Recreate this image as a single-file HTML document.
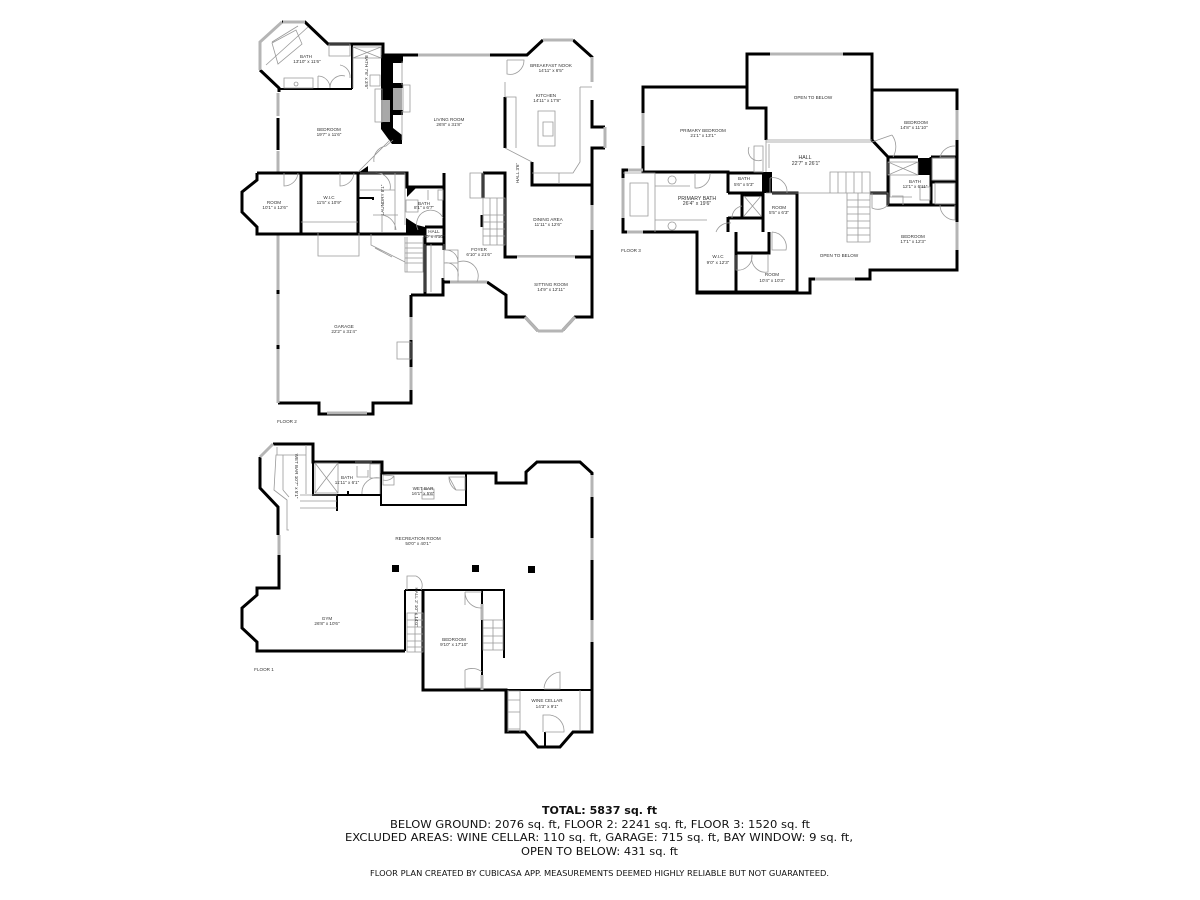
<!DOCTYPE html>
<html><head><meta charset="utf-8"><style>
html,body{margin:0;padding:0;background:#fff}
svg{display:block}
.w{fill:none;stroke:#000;stroke-width:3;stroke-linejoin:miter}
.t{fill:none;stroke:#000;stroke-width:2}
.g{fill:none;stroke:#b5b5b5;stroke-width:3}
.h{fill:none;stroke:#999;stroke-width:.8}
.l{font-family:"Liberation Sans",sans-serif;font-size:4.6px;fill:#333;text-anchor:middle}
.f{font-family:"DejaVu Sans",sans-serif;fill:#111;text-anchor:middle}
.p{filter:blur(.3px)}
</style></head><body>
<svg width="1200" height="900" viewBox="0 0 1200 900" xmlns="http://www.w3.org/2000/svg">
<rect width="1200" height="900" fill="#fff"/>
<g class="p">
<!-- FLOOR 2 walls -->
<path class="w" d="M282 22H305L328 44H383V55H418M490 55H527L543 40M573 40L592 57V82M592 100V127H605M605 148H592V205M592 230V317H575L563 330M538 331L525 317H506V295L487 282M450 282H443M443 278V295H425V227M411 295V317M425 295H411M411 340V367M411 390V403H373V414H319V403H278"/>
<path class="w" d="M260 70L279 88V92M278 118V150"/>
<path class="g" d="M282 22L260 42V70M283 22H305M543 40H573M592 57V82M605 127V148M592 205V230M538 331H562L575 317M525 317L538 331M450 282H487M411 317V340M411 367V390M278 235V290M278 294V345M278 349V403M327 413H367M278 93V116M278 151V172M418 55H490"/>
<path class="w" d="M278 290V294M278 345V349" style="stroke-width:3"/>
<path class="w" d="M257 173H407V187H444V250M444 173V187M257 173V180L242 192V212L257 227V234H425M301 173V234M358 173V234M425 227H444M425 244H444M505 97V148M517 257H505V173H483M532 162V185H592M483 173V198M482 215V227M575 257H592"/>
<path class="w" d="M352 44V89M383 44V89M279 89H352" style="stroke-width:2"/>
<!-- black chimney blocks -->
<path d="M381 55H393V128L402 135V144H392L381 129V122H390V100H381Z" fill="#000"/>
<path d="M393 55H403V63H393ZM393 83H403V88H393ZM393 110H403V115H393Z" fill="#000"/>
<rect x="393" y="88" width="9" height="22" fill="#a8a8a8"/>
<rect x="381" y="100" width="9" height="22" fill="#a8a8a8"/>
<path d="M407 187H417L407 197ZM406 218L417 225L425 227V235H406ZM358 173L368 166V173Z" fill="#000"/>
<path class="w" d="M358 198H373V200" style="stroke-width:2"/>
<path class="h" d="M517 257H575M505 82V97M505 148L532 162M390 140L358 172M393 140L386 146A14 14 0 0 0 374 162"/>
<path d="M517 256H575" stroke="#bbb" stroke-width="2"/>
<path class="h" d="M272 42L298 26M266 65L308 27M272 43L296 30L302 44L278 64ZM329 44H350V56H329ZM284 78H313V88H284ZM318 76V88M353 58V88M353 47H381V58H353ZM353 47L381 58M381 47L353 58M370 75H380V86H370Z"/>
<path class="h" d="M318 76A12 12 0 0 1 330 88M340 65A12 12 0 0 1 350 78M330 88A12 12 0 0 1 345 76M296 82a2 2 0 1 0 .1 0"/>
<path class="h" d="M375 89H382V122H375ZM403 85H410V112H403ZM403 62H402V85M402 111V140"/>
<path class="h" d="M507 60V74A14 14 0 0 0 524 60H507M505 97H516V148M538 111H555V146H538ZM543 122H553V136H543ZM580 87H592M580 87V162L573 173H559V184M532 173H559"/>
<path class="h" d="M284 173V186A14 14 0 0 0 298 173M340 173V186A14 14 0 0 0 354 173M360 173H405V225M360 190H395M395 173V230M373 215H398M396 230A16 16 0 0 0 382 215V232M375 173A14 14 0 0 1 390 190"/>
<path class="h" d="M318 233V256H359V233M301 222H358M371 234V245L405 262M375 248L392 257M405 237V272H423V237M405 243H423M405 248H423M405 253H423M405 258H423M405 263H423M407 237V272"/>
<path class="h" d="M428 190V200M438 190H443V200H438ZM425 236H443M425 244V292M431 244V292M406 200H418V212H406ZM418 230A12 12 0 0 1 443 218"/>
<path class="h" d="M470 173H483V198H470ZM483 198H505V245H483ZM483 215H505M483 222H505M483 229H505M483 236H505M490 198V245M497 198V245"/>
<path class="h" d="M444 250H458V262A12 12 0 0 0 446 250M444 263H458V277A12 12 0 0 0 444 263M458 262V282M458 262A15 15 0 0 1 477 282M397 342H411V359H397ZM444 244V280"/>

<!-- FLOOR 3 -->
<path class="w" d="M770 54H747V87H643V113M643 146V172H728V173H762M772 193H797V292M797 292H697V232H640M627 232H623V218M623 178V170H628M843 54H872V90H957V110M957 140V222M957 250V270H870V279H855M815 279H810V293H697V232M747 87V108H766V140M872 54V140L888 157H918M931 157H957M888 157V205H957M931 157V205M931 182H957"/>
<path class="g" d="M770 54H843M643 113V146M623 178V218M627 232H643M628 170H643M957 110V140M957 222V250M815 279H855"/>
<path d="M762 172H772V193H762ZM918 158H931V175H918Z" fill="#000"/>
<path class="w" d="M728 173V193M728 193H762M763 193V232M742 195H763V218H742ZM728 217V232M728 218H742M736 232V292M736 253H769V232M870 193H888"/>
<path class="h" d="M766 140H872M766 142H872M766 140V172M769 144V168M762 160A10 10 0 0 1 749 147M754 146H763V172H754ZM623 173H655V232M630 183H648V216H630ZM655 186H690M655 220H707M695 173V188A14 14 0 0 0 710 173M744 196L761 216M761 196L744 216M731 223A14 14 0 0 0 716 232M742 206A12 12 0 0 0 732 218M672 176a4 4 0 1 0 .1 0M672 222a4 4 0 1 0 .1 0"/>
<path class="h" d="M770 178V193M770 178A14 14 0 0 1 787 193"/>
<path class="h" d="M766 193H847M830 172H870V193H830ZM838 172V193M846 172V193M854 172V193M862 172V193M847 193V242H870V193M847 200H870M847 207H870M847 214H870M847 221H870M847 228H870M847 235H870M858 193V242"/>
<path class="h" d="M888 162H918V175H888ZM888 162L918 175M918 162L888 175M890 175V197H912M892 196H903V205M920 187H930V200H920ZM870 193H888V205A14 14 0 0 1 872 208V193M872 142L892 135M892 135A20 20 0 0 1 893 157M932 158H955V180H932ZM935 183H955V204H935ZM955 146A15 15 0 0 0 940 157H955M955 205V220A15 15 0 0 1 940 205"/>
<path class="h" d="M772 232V250H786A15 15 0 0 0 772 232M736 255V270A14 14 0 0 0 752 255M752 255A14 14 0 0 0 768 272V255"/>

<!-- FLOOR 1 -->
<path class="w" d="M273 444H313V462H382V473H496V483H526V472L537 462H580L592 473V475M592 497V538M592 560V620M592 642V732H573L560 747H538L525 732H506V690H423V590M405 651H257V642L242 628V608L257 595V588H279V555M278 535V507L260 488V457"/>
<path class="t" d="M313 444V495H382M337 495V511M348 491V495M381 473V505H466V473M405 590V651M405 590H504V658M482 590V604M482 620V675M506 690H592M545 732V747M423 690H482M423 590V690"/>
<path class="g" d="M260 457L273 444M592 475V497M592 538V560M592 620V642M279 535V555M482 604V620M482 675V690"/>
<rect x="392" y="565" width="7" height="7" fill="#000"/>
<rect x="472" y="565" width="7" height="7" fill="#000"/>
<rect x="528" y="566" width="7" height="7" fill="#000"/>
<path class="h" d="M277 447V455H306V447M306 445V494M285 455H276L274 490L287 500V530H289M283 490L289 497M283 455V490M300 495H337M300 501H337M300 508H337M315 463H338V493H315ZM315 463L338 493M338 463L315 493M355 462H372M357 466V477H368V470M370 464H380V478H370V464ZM362 494A15 15 0 0 1 380 478V494M383 475L394 476V485H383ZM383 480A10 10 0 0 0 394 476M422 495H434V499H422ZM422 499V489H434V499M449 477H465V490H456ZM449 477A15 15 0 0 0 456 490M407 590V576H416A10 10 0 0 1 421 590M407 576V590"/>
<path class="h" d="M407 613H423V652H407ZM407 620H423M407 627H423M407 634H423M407 641H423M407 647H423M415 613V652M465 592V605M465 592H482M465 592A16 16 0 0 0 482 608M465 670A16 16 0 0 1 482 672M465 670V688H482M483 620H503V650H483ZM483 628H503M483 636H503M483 643H503M493 620V650"/>
<path class="h" d="M508 690V732M508 691H520V732M508 700H520M508 712H520M508 729H520M520 691V732M580 690V730M543 732V715H550A16 16 0 0 1 564 730V732H545M544 688A18 18 0 0 1 560 672V689H544"/>

<!-- Labels floor 2 -->
<text class="l" x="306" y="58">BATH</text><text class="l" x="307" y="63">13'10" x 11'6"</text>
<text class="l" transform="translate(365 72) rotate(90)">BATH 7'6" x 3'6"</text>
<text class="l" x="329" y="131">BEDROOM</text><text class="l" x="329" y="136">19'7" x 11'6"</text>
<text class="l" x="449" y="121">LIVING ROOM</text><text class="l" x="449" y="126">26'8" x 31'8"</text>
<text class="l" x="551" y="67">BREAKFAST NOOK</text><text class="l" x="551" y="72">14'11" x 6'5"</text>
<text class="l" x="546" y="97">KITCHEN</text><text class="l" x="547" y="102">14'11" x 17'8"</text>
<text class="l" x="274" y="204">ROOM</text><text class="l" x="275" y="209">10'1" x 12'6"</text>
<text class="l" x="329" y="199">W.I.C</text><text class="l" x="329" y="204">11'5" x 10'9"</text>
<text class="l" transform="translate(384 200) rotate(-90)">LAUNDRY 8'1"</text>
<text class="l" x="424" y="205">BATH</text><text class="l" x="424" y="209">8'1" x 6'7"</text>
<text class="l" x="434" y="233">HALL</text><text class="l" x="434" y="238">10' x 4'10"</text>
<text class="l" transform="translate(519 173) rotate(-90)">HALL 3'6"</text>
<text class="l" x="548" y="221">DINING AREA</text><text class="l" x="548" y="226">11'11" x 12'6"</text>
<text class="l" x="479" y="251">FOYER</text><text class="l" x="479" y="256">6'10" x 21'6"</text>
<text class="l" x="551" y="286">SITTING ROOM</text><text class="l" x="551" y="291">14'9" x 12'11"</text>
<text class="l" x="344" y="328">GARAGE</text><text class="l" x="344" y="333">22'2" x 31'4"</text>
<text class="l" x="287" y="423">FLOOR 2</text>
<!-- Labels floor 3 -->
<text class="l" x="813" y="99">OPEN TO BELOW</text>
<text class="l" x="916" y="124">BEDROOM</text><text class="l" x="914" y="129">14'8" x 11'10"</text>
<text class="l" x="703" y="132">PRIMARY BEDROOM</text><text class="l" x="703" y="137">21'1" x 13'1"</text>
<text class="l" x="805" y="159" style="font-size:5.2px">HALL</text><text class="l" x="806" y="165" style="font-size:5.2px">22'7" x 26'1"</text>
<text class="l" x="744" y="180">BATH</text><text class="l" x="744" y="186">5'6" x 5'3"</text>
<text class="l" x="915" y="183">BATH</text><text class="l" x="915" y="188">12'1" x 6'11"</text>
<text class="l" x="697" y="200" style="font-size:5.2px">PRIMARY BATH</text><text class="l" x="697" y="205" style="font-size:5.2px">26'4" x 19'6"</text>
<text class="l" x="779" y="209">ROOM</text><text class="l" x="779" y="214">5'5" x 6'3"</text>
<text class="l" x="718" y="258">W.I.C</text><text class="l" x="718" y="264">9'0" x 12'3"</text>
<text class="l" x="772" y="276">ROOM</text><text class="l" x="772" y="282">10'4" x 10'3"</text>
<text class="l" x="839" y="257">OPEN TO BELOW</text>
<text class="l" x="913" y="238">BEDROOM</text><text class="l" x="913" y="243">17'1" x 12'3"</text>
<text class="l" x="631" y="252">FLOOR 3</text>
<!-- Labels floor 1 -->
<text class="l" transform="translate(295 476) rotate(90)">WET BAR 10'7" x 5'1"</text>
<text class="l" x="347" y="479">BATH</text><text class="l" x="347" y="484">11'11" x 6'1"</text>
<text class="l" x="423" y="490">WET BAR</text><text class="l" x="423" y="495">16'1" x 5'6"</text>
<text class="l" x="418" y="540">RECREATION ROOM</text><text class="l" x="418" y="545">50'0" x 40'1"</text>
<text class="l" x="327" y="620">GYM</text><text class="l" x="327" y="625">26'8" x 10'6"</text>
<text class="l" transform="translate(415 607) rotate(90)">HALL 2' 10" x 14'0"</text>
<text class="l" x="454" y="641">BEDROOM</text><text class="l" x="454" y="646">9'10" x 17'10"</text>
<text class="l" x="547" y="702">WINE CELLAR</text><text class="l" x="547" y="708">14'3" x 9'1"</text>
<text class="l" x="264" y="671">FLOOR 1</text>
</g>
<!-- Footer -->
<text class="f" x="599.5" y="814" font-size="11" font-weight="700" textLength="115" lengthAdjust="spacingAndGlyphs">TOTAL: 5837 sq. ft</text>
<text class="f" x="600" y="828" font-size="11" textLength="420" lengthAdjust="spacingAndGlyphs">BELOW GROUND: 2076 sq. ft, FLOOR 2: 2241 sq. ft, FLOOR 3: 1520 sq. ft</text>
<text class="f" x="599" y="841" font-size="11" textLength="508" lengthAdjust="spacingAndGlyphs">EXCLUDED AREAS: WINE CELLAR: 110 sq. ft, GARAGE: 715 sq. ft, BAY WINDOW: 9 sq. ft,</text>
<text class="f" x="599.5" y="855" font-size="11" textLength="157" lengthAdjust="spacingAndGlyphs">OPEN TO BELOW: 431 sq. ft</text>
<text class="f" x="599.5" y="876" font-size="8" textLength="459" lengthAdjust="spacingAndGlyphs">FLOOR PLAN CREATED BY CUBICASA APP. MEASUREMENTS DEEMED HIGHLY RELIABLE BUT NOT GUARANTEED.</text>
</svg>
</body></html>
